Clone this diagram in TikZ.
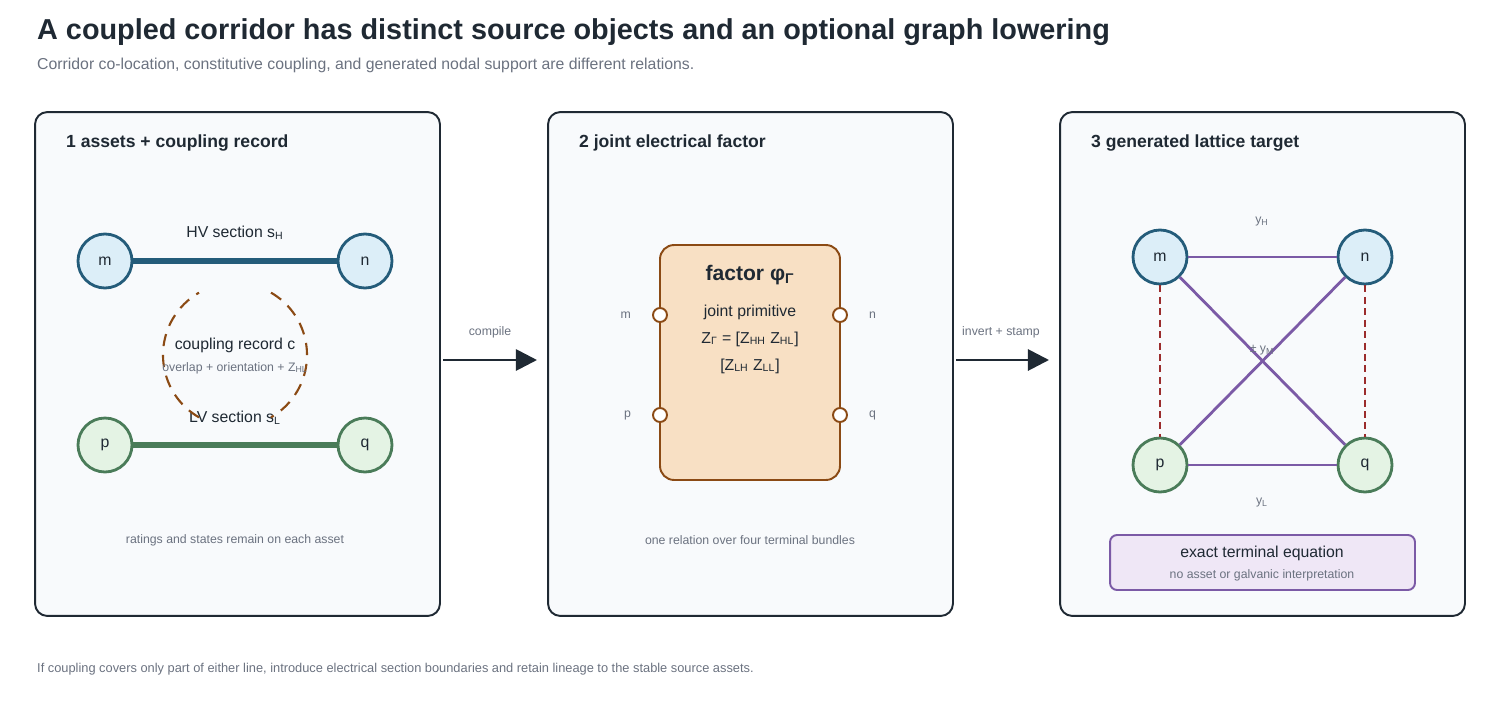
\documentclass[tikz,border=0pt]{standalone}
\usepackage{fontspec}
\setmainfont{Liberation Sans}
\usetikzlibrary{arrows.meta}
\usetikzlibrary{positioning}
\definecolor{ink}{HTML}{1F2933}
\definecolor{muted}{HTML}{6B7280}
\definecolor{hvline}{HTML}{245C7A}
\definecolor{hvfill}{HTML}{DCEEF8}
\definecolor{lvline}{HTML}{4A7C59}
\definecolor{lvfill}{HTML}{E4F3E4}
\definecolor{coup}{HTML}{8B4A14}
\definecolor{facfill}{HTML}{F8E0C4}
\definecolor{lat}{HTML}{7B5AA6}
\definecolor{latfill}{HTML}{EFE7F6}
\definecolor{tie}{HTML}{9B2C2C}
\definecolor{panelfill}{HTML}{F8FAFC}
\tikzset{
    panel/.style={
      rectangle,
           draw=ink, line width=1.1pt,
           fill=panelfill,
           rounded corners=7pt,
           minimum width=8.1cm,
           minimum height=10.08cm,
           },
}
\tikzset{
    hvbus/.style={
      circle,
           draw=hvline, line width=1.6pt,
           fill=hvfill,
           minimum size=1.08cm,
           font=\small,
           text=ink,
           },
}
\tikzset{
    lvbus/.style={
      circle,
           draw=lvline, line width=1.6pt,
           fill=lvfill,
           minimum size=1.08cm,
           font=\small,
           text=ink,
           },
}
\tikzset{
    port/.style={
      circle,
           draw=coup, line width=1.1pt,
           fill=white,
           inner sep=0pt,
           minimum size=0.28cm,
           },
}
\tikzset{
    txt/.style={font=\small, text=ink},
    note/.style={font=\scriptsize, text=muted},
    heading/.style={font=\bfseries\normalsize, text=ink, anchor=west},
    flow/.style={-{Triangle[length=12pt,width=12pt]}, line width=1.6pt, draw=ink},
}

\begin{document}
\begin{tikzpicture}[x=0.02cm,y=-0.02cm]

\useasboundingbox (0,0) rectangle (1500,720);

% title
\node[anchor=west,font=\bfseries\fontsize{16.4}{20}\selectfont,text=ink](title) at (31,32){A coupled corridor has distinct source objects and an optional graph lowering};
\node[anchor=west,font=\small,text=muted](sub) at (31,65){Corridor co-location, constitutive coupling, and generated nodal support are different relations.};

% panels
\node[panel](pa) at (237.5,364){};
\node[panel](pb) at (750.5,364){};
\node[panel](pc) at (1262.5,364){};

\node[heading](ha) at (60,143){1 assets + coupling record};
\node[heading](hb) at (573,143){2 joint electrical factor};
\node[heading](hc) at (1085,143){3 generated lattice target};

% panel 1
\node[hvbus](am) at (105,261){m};
\node[hvbus](an) at (365,261){n};
\node[lvbus](ap) at (105,445){p};
\node[lvbus](aq) at (365,445){q};

\draw[hvline,line width=3pt] (am)--(an);
\draw[lvline,line width=3pt] (ap)--(aq);

\node[txt](shv) at (235,233){HV section s\textsubscript{H}};
\node[txt](slv) at (235,418){LV section s\textsubscript{L}};

\coordinate (cc) at (235,355);
\draw[coup,line width=1.2pt,dash pattern=on 7pt off 5pt] (cc) ++(120:72) arc[start angle=120,end angle=240,radius=72];
\draw[coup,line width=1.2pt,dash pattern=on 7pt off 5pt] (cc) ++(-60:72) arc[start angle=-60,end angle=60,radius=72];

\node[txt](crc) at (235,345){coupling record c};
\node[note](ovl) at (235,368){overlap + orientation + Z\textsubscript{HL}};
\node[note](fa) at (235,540){ratings and states remain on each asset};

% panel 2
\node[rectangle,draw=coup,line width=1.1pt,fill=facfill,rounded corners=8pt,minimum width=3.6cm,minimum height=4.7cm](fac) at (750,362.5){};

\node[port](pm) at (660,315){};
\node[port](pp) at (660,415){};
\node[port](pn) at (840,315){};
\node[port](pq) at (840,415){};

\node[note,left = 0.3cm of pm](lm){m};
\node[note,left = 0.3cm of pp](lp){p};
\node[note,right = 0.3cm of pn](ln){n};
\node[note,right = 0.3cm of pq](lq){q};

\node[font=\bfseries\large,text=ink](fname) at (750,275){factor φ\textsubscript{Γ}};
\node[txt](jp) at (750,312){joint primitive};
\node[txt](zr1) at (750,339){Z\textsubscript{Γ} = [Z\textsubscript{HH} Z\textsubscript{HL}]};
\node[txt](zr2) at (750,366){[Z\textsubscript{LH} Z\textsubscript{LL}]};
\node[note](fb) at (750,540){one relation over four terminal bundles};

% arrows between panels
\coordinate (a1s) at (443,360);
\coordinate (a1e) at (537,360);
\coordinate (a2s) at (956,360);
\coordinate (a2e) at (1049,360);
\draw[flow] (a1s)--(a1e);
\draw[flow] (a2s)--(a2e);
\node[note](cmp) at (490,332){compile};
\node[note](inv) at (1001,332){invert + stamp};

% panel 3
\node[hvbus](cm) at (1160,257){m};
\node[hvbus](cn) at (1365,257){n};
\node[lvbus](cp) at (1160,465){p};
\node[lvbus](cq) at (1365,465){q};

\draw[lat,line width=1.6pt] (cm)--(cn);
\draw[lat,line width=1.6pt] (cp)--(cq);
\draw[lat,line width=1.6pt] (cm)--(cq);
\draw[lat,line width=1.6pt] (cp)--(cn);
\draw[tie,line width=1.6pt,dash pattern=on 4pt off 2.5pt] (cm)--(cp);
\draw[tie,line width=1.6pt,dash pattern=on 4pt off 2.5pt] (cn)--(cq);

\node[note](yh) at (1262,222){y\textsubscript{H}};
\node[note](yl) at (1262,503){y\textsubscript{L}};
\node[note](ym) at (1262,350){± y\textsubscript{M}};

\node[rectangle,draw=lat,line width=1.1pt,fill=latfill,rounded corners=4pt,minimum width=6.1cm,minimum height=1.1cm](eq) at (1262.5,562.5){};
\node[txt](eqt) at (1262,553){exact terminal equation};
\node[note](eqn) at (1262,575){no asset or galvanic interpretation};

% footnote
\node[anchor=west,font=\fontsize{7.3}{9}\selectfont,text=muted](foot) at (31,669){If coupling covers only part of either line, introduce electrical section boundaries and retain lineage to the stable source assets.};

\end{tikzpicture}
\end{document}
